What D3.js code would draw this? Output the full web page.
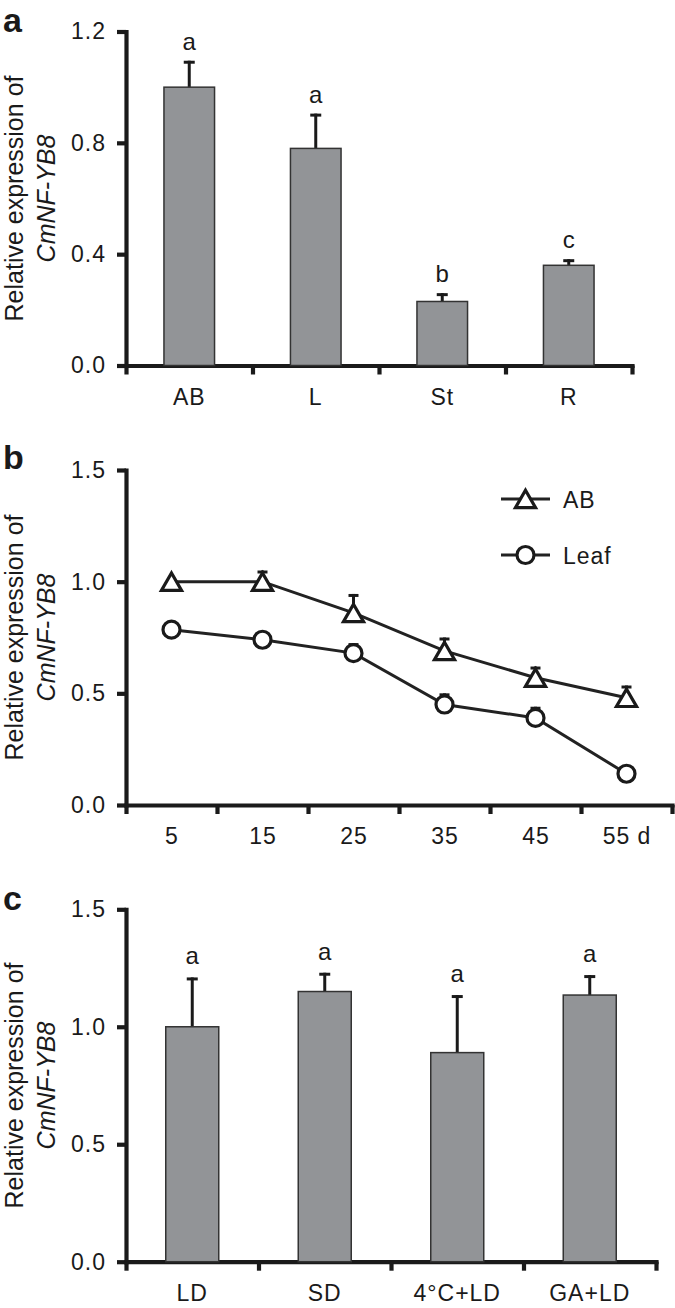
<!DOCTYPE html>
<html>
<head>
<meta charset="utf-8">
<script src="https://cdn.jsdelivr.net/npm/d3@7"></script>
<style>
  html, body { margin: 0; padding: 0; background: #fff; }
  svg { display: block; }
  text { font-family: "Liberation Sans", Arial, Helvetica, sans-serif; fill: #1a1a1a; }
</style>
</head>
<body>
<svg id="chart" width="675" height="1308"></svg>
<script>
// ---------- Data ----------
// Panel a: tissues
const catsA = ["AB", "L", "St", "R"];
const valsA = [1.0, 0.78, 0.23, 0.36];
const errA = [0.095, 0.125, 0.03, 0.022];
const lettersA = ["a", "a", "b", "c"];
const ticksA = [0, 0.4, 0.8, 1.2];

// Panel b: time course
const days = ["5", "15", "25", "35", "45", "55 d"];
const abVals = [1.0, 1.0, 0.86, 0.69, 0.57, 0.48];
const abErr = [0.0, 0.05, 0.085, 0.06, 0.05, 0.055];
const leafVals = [0.785, 0.74, 0.68, 0.45, 0.39, 0.14];
const leafErr = [0.01, 0.01, 0.045, 0.05, 0.05, 0.01];
const seriesNames = ["AB", "Leaf"];
const ticksB = [0, 0.5, 1.0, 1.5];

// Panel c: treatments
const catsC = ["LD", "SD", "4°C+LD", "GA+LD"];
const valsC = [1.0, 1.15, 0.89, 1.135];
const errC = [0.21, 0.08, 0.245, 0.085];
const lettersC = ["a", "a", "a", "a"];
const ticksC = [0, 0.5, 1.0, 1.5];

// ---------- Styles ----------
const INK = "#1a1a1a";
const BAR = "#929497";
const AXW = 4.2;
const FS = 23;

const svg = d3.select("#chart");

function styleAxis(g) {
  g.selectAll("path.domain").attr("stroke", INK).attr("stroke-width", AXW).attr("stroke-linecap", "square");
  g.selectAll(".tick line").attr("stroke", INK).attr("stroke-width", AXW);
  g.selectAll(".tick text").attr("font-size", FS).attr("fill", INK)
    .style("font-family", "'Liberation Sans', Arial, sans-serif").attr("letter-spacing", "1px");
}

function panelFrame(opts) {
  const { x0, x1, y0, y1, ymax, ticks, nBands, letter, letterY } = opts;
  const y = d3.scaleLinear().domain([0, ymax]).range([y0, y1]);
  // y axis
  const gy = svg.append("g").attr("transform", `translate(${x0},0)`)
    .call(d3.axisLeft(y).tickValues(ticks).tickSize(9).tickSizeOuter(0).tickPadding(11)
      .tickFormat(d3.format(".1f")));
  styleAxis(gy);
  // x axis with boundary ticks
  const xb = d3.scaleLinear().domain([0, nBands]).range([x0, x1]);
  const gx = svg.append("g").attr("transform", `translate(0,${y0})`)
    .call(d3.axisBottom(xb).tickValues(d3.range(nBands + 1)).tickSize(9).tickSizeOuter(0).tickFormat(""));
  styleAxis(gx);
  // y label
  const cy = (y0 + y1) / 2;
  const lab = svg.append("text").attr("transform", `translate(23,${cy}) rotate(-90)`)
    .attr("text-anchor", "middle").attr("font-size", 25);
  lab.append("tspan").attr("x", 0).attr("y", 0).text("Relative expression of");
  lab.append("tspan").attr("x", 0).attr("y", 32).attr("font-style", "italic").text("CmNF-YB8");
  // panel letter
  svg.append("text").attr("x", 3).attr("y", letterY).attr("font-size", 34).attr("font-weight", "bold").text(letter);
  return y;
}

function barPanel(opts, cats, vals, errs, letters) {
  const y = panelFrame(opts);
  const x = d3.scaleBand().domain(cats).range([opts.x0, opts.x1]).paddingInner(0.6).paddingOuter(0.3);
  const g = svg.append("g");
  // error bars (upper only)
  const eb = g.selectAll("g.eb").data(cats).join("g");
  eb.append("line")
    .attr("x1", d => x(d) + x.bandwidth() / 2).attr("x2", d => x(d) + x.bandwidth() / 2)
    .attr("y1", (d, i) => y(vals[i])).attr("y2", (d, i) => y(vals[i] + errs[i]))
    .attr("stroke", INK).attr("stroke-width", 3);
  eb.append("line")
    .attr("x1", d => x(d) + x.bandwidth() / 2 - 5.5).attr("x2", d => x(d) + x.bandwidth() / 2 + 5.5)
    .attr("y1", (d, i) => y(vals[i] + errs[i]) + 1.5).attr("y2", (d, i) => y(vals[i] + errs[i]) + 1.5)
    .attr("stroke", INK).attr("stroke-width", 3);
  // bars
  g.selectAll("rect").data(cats).join("rect")
    .attr("x", d => x(d)).attr("width", x.bandwidth())
    .attr("y", (d, i) => y(vals[i])).attr("height", (d, i) => y(0) - y(vals[i]))
    .attr("fill", BAR).attr("stroke", "#333").attr("stroke-width", 1.5);
  // significance letters
  g.selectAll("text.sig").data(cats).join("text")
    .attr("x", d => x(d) + x.bandwidth() / 2)
    .attr("y", (d, i) => y(vals[i] + errs[i]) - opts.sigGap)
    .attr("text-anchor", "middle").attr("font-size", 24)
    .text((d, i) => letters[i]);
  // category labels
  const gl = svg.append("g").attr("transform", `translate(0,${opts.y0})`)
    .call(d3.axisBottom(x).tickSize(0).tickPadding(23));
  gl.select("path.domain").remove();
  styleAxis(gl);
}

// Panel a
barPanel({ x0: 126, x1: 632, y0: 365.5, y1: 31.5, ymax: 1.2, ticks: ticksA, nBands: 4,
  letter: "a", letterY: 32, sigGap: 11 }, catsA, valsA, errA, lettersA);

// Panel c
barPanel({ x0: 126, x1: 656, y0: 1261.7, y1: 909.3, ymax: 1.5, ticks: ticksC, nBands: 4,
  letter: "c", letterY: 910, sigGap: 13 }, catsC, valsC, errC, lettersC);

// Panel b
(function () {
  const opts = { x0: 126, x1: 672, y0: 805, y1: 470, ymax: 1.5, ticks: ticksB, nBands: 6,
    letter: "b", letterY: 469 };
  const y = panelFrame(opts);
  const x = d3.scalePoint().domain(days).range([opts.x0, opts.x1]).padding(0.5);

  const triangle = {
    draw(ctx, size) {
      const s = Math.sqrt(size * 4 / Math.sqrt(3));
      const h = s * Math.sqrt(3) / 2;
      ctx.moveTo(0, -h / 2);
      ctx.lineTo(s / 2, h / 2);
      ctx.lineTo(-s / 2, h / 2);
      ctx.closePath();
    }
  };
  const series = [
    { name: seriesNames[0], vals: abVals, errs: abErr, sym: triangle, size: 175 },
    { name: seriesNames[1], vals: leafVals, errs: leafErr, sym: d3.symbolCircle, size: Math.PI * 8.5 * 8.5 }
  ];
  const line = d3.line().x((d, i) => x(days[i])).y(d => y(d));
  const g = svg.append("g");
  series.forEach(s => {
    g.append("path").datum(s.vals).attr("d", line)
      .attr("fill", "none").attr("stroke", "#222").attr("stroke-width", 3);
  });
  series.forEach(s => {
    const eg = g.append("g");
    eg.selectAll("line.v").data(days).join("line")
      .attr("x1", d => x(d)).attr("x2", d => x(d))
      .attr("y1", (d, i) => y(s.vals[i])).attr("y2", (d, i) => y(s.vals[i] + s.errs[i]))
      .attr("stroke", INK).attr("stroke-width", 3);
    eg.selectAll("line.c").data(days).join("line")
      .attr("x1", d => x(d) - 5).attr("x2", d => x(d) + 5)
      .attr("y1", (d, i) => y(s.vals[i] + s.errs[i]) + 1.5).attr("y2", (d, i) => y(s.vals[i] + s.errs[i]) + 1.5)
      .attr("stroke", INK).attr("stroke-width", 3);
  });
  series.forEach(s => {
    g.selectAll(null).data(days).join("path")
      .attr("transform", (d, i) => `translate(${x(d)},${y(s.vals[i])})`)
      .attr("d", d3.symbol(s.sym, s.size))
      .attr("fill", "#fff").attr("stroke", INK).attr("stroke-width", 3.2);
  });
  // category labels
  const gl = svg.append("g").attr("transform", `translate(0,${opts.y0})`)
    .call(d3.axisBottom(x).tickSize(0).tickPadding(23));
  gl.select("path.domain").remove();
  styleAxis(gl);
  // legend
  const lg = svg.append("g");
  series.forEach((s, i) => {
    const ly = 499 + i * 56;
    lg.append("line").attr("x1", 501).attr("x2", 550).attr("y1", ly).attr("y2", ly)
      .attr("stroke", "#222").attr("stroke-width", 3);
    lg.append("path").attr("transform", `translate(525.5,${ly})`)
      .attr("d", d3.symbol(s.sym, s.size)).attr("fill", "#fff").attr("stroke", INK).attr("stroke-width", 3.2);
    lg.append("text").attr("x", 563).attr("y", ly + 9).attr("font-size", FS)
      .attr("letter-spacing", "1px").text(s.name);
  });
})();
</script>
</body>
</html>
